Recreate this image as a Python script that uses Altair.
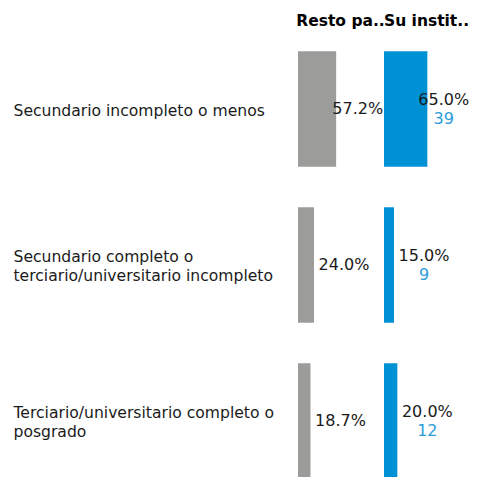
import altair as alt
import pandas as pd

categories = [
    "Secundario incompleto o menos",
    "Secundario completo o|terciario/universitario incompleto",
    "Terciario/universitario completo o|posgrado",
]
groups = ["Resto pa..", "Su instit.."]
resto_pct = [57.2, 24.0, 18.7]
su_pct = [65.0, 15.0, 20.0]
su_count = [39, 9, 12]

rows = []
for c, p in zip(categories, resto_pct):
    rows.append({"group": groups[0], "cat": c, "pct": p, "count": None})
for c, p, n in zip(categories, su_pct, su_count):
    rows.append({"group": groups[1], "cat": c, "pct": p, "count": n})
df = pd.DataFrame(rows)

FONT = "DejaVu Sans"
COLW = 85
xscale = alt.Scale(domain=[0, COLW / 0.667], nice=False, zero=True)
yenc = alt.Y(
    "cat:N",
    sort=categories,
    scale=alt.Scale(paddingInner=0.26, paddingOuter=0.13),
    axis=alt.Axis(
        title=None, ticks=False, domain=False, labelAlign="left",
        labelPadding=285, labelFontSize=15.6, labelFont=FONT,
        labelColor="#1a1a1a", labelExpr="split(datum.label, '|')",
        labelLimit=400, labelLineHeight=19, labelBaseline="middle",
        labelOffset={"condition": {"test": "indexof(datum.value, '|') >= 0", "value": -8}, "value": 2},
    ),
)

base = alt.Chart().encode(y=yenc)

bars = base.mark_bar().encode(
    x=alt.X("pct:Q", scale=xscale, axis=None),
    color=alt.Color("group:N", scale=alt.Scale(domain=groups, range=["#9c9c9b", "#0091d5"]), legend=None),
)

txt_base = base.transform_calculate(
    lx="min(datum.pct, 44.5)",
    plabel="format(datum.pct, '.1f') + '%'",
)

gray_txt = txt_base.transform_filter(alt.datum.group == groups[0]).mark_text(
    align="center", baseline="middle", dx=30, fontSize=16, font=FONT, color="#1a1a1a"
).encode(x=alt.X("lx:Q", scale=xscale, axis=None), text="plabel:N")

blue_txt = txt_base.transform_filter(alt.datum.group == groups[1]).mark_text(
    align="center", baseline="middle", dx=30, dy=-9.5, fontSize=16, font=FONT, color="#1a1a1a"
).encode(x=alt.X("lx:Q", scale=xscale, axis=None), text="plabel:N")

blue_cnt = txt_base.transform_filter(alt.datum.group == groups[1]).mark_text(
    align="center", baseline="middle", dx=30, dy=9.5, fontSize=16, font=FONT, color="#2b9cd8"
).encode(x=alt.X("lx:Q", scale=xscale, axis=None), text="count:Q")

layer = alt.layer(bars, gray_txt, blue_txt, blue_cnt, data=df).properties(width=COLW, height=468)

chart = layer.facet(
    column=alt.Column(
        "group:N", sort=groups,
        header=alt.Header(title=None, labelFontSize=15.5, labelFontWeight="bold",
                          labelFont=FONT, labelColor="#000000", labelOrient="top",
                          labelPadding=2),
    ),
    spacing=0,
).configure_view(stroke=None).properties(
    padding={"left": 5, "top": 5, "right": 0, "bottom": 0}
)

chart.save("out.html", embed_options={"renderer": "svg", "actions": False})
